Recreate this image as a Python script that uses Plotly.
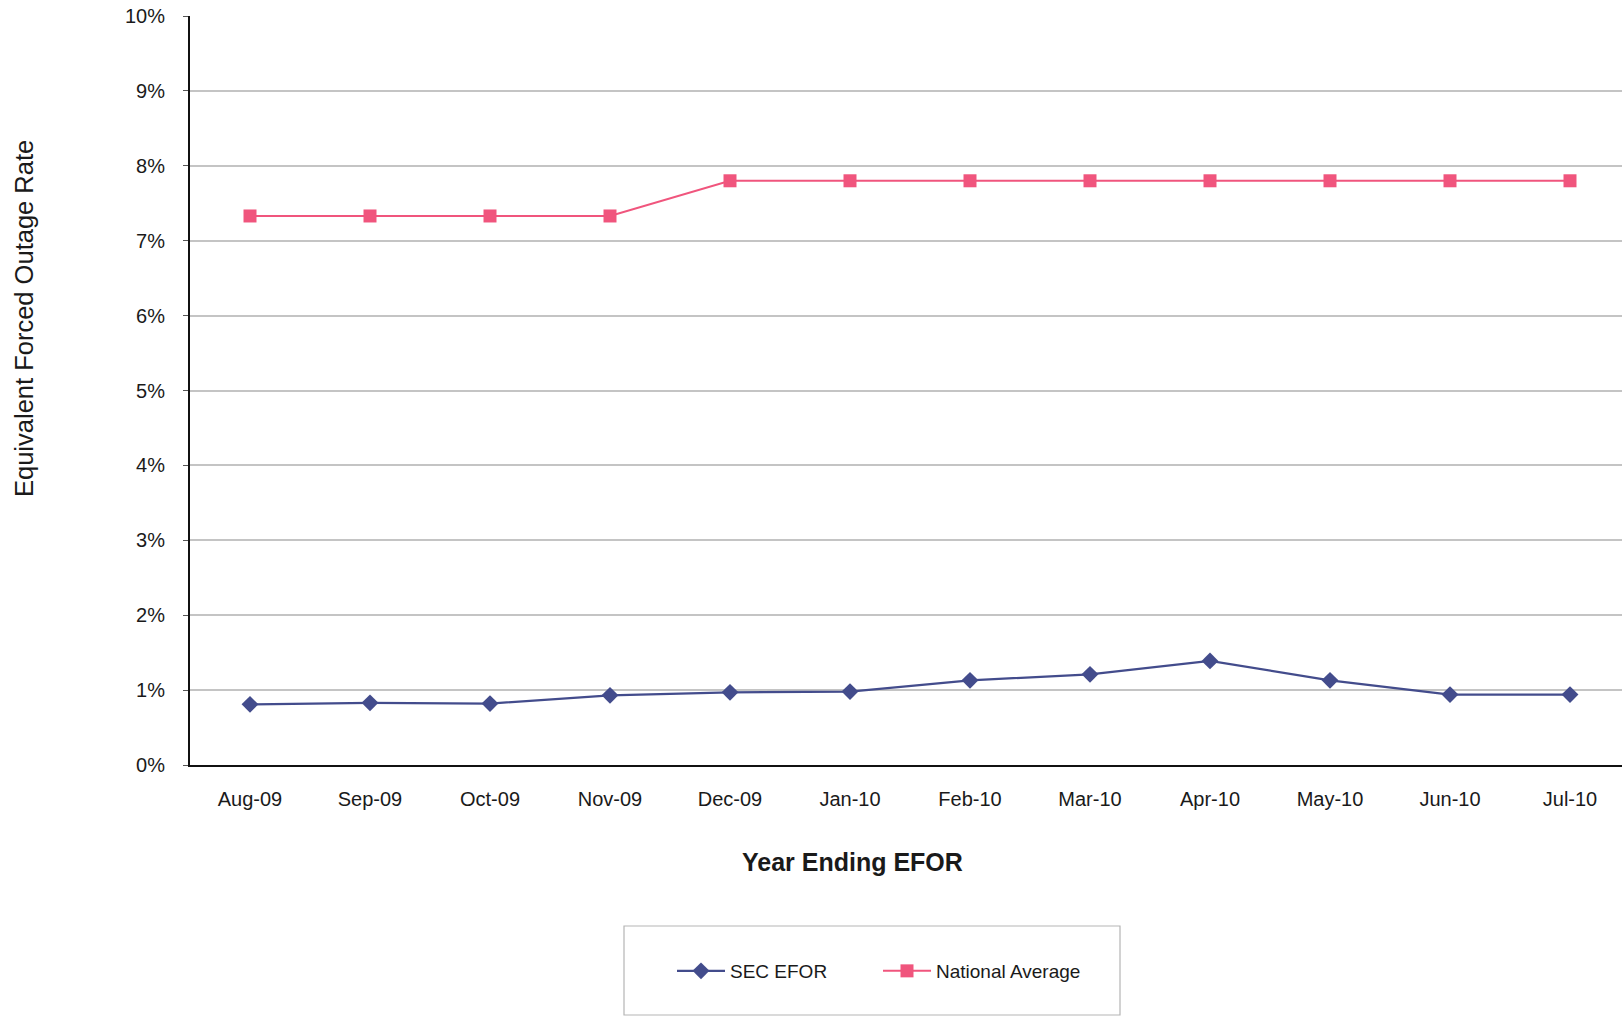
import plotly.graph_objects as go

# Year-ending EFOR by month
months = ["Aug-09", "Sep-09", "Oct-09", "Nov-09", "Dec-09", "Jan-10",
          "Feb-10", "Mar-10", "Apr-10", "May-10", "Jun-10", "Jul-10"]
sec_efor = [0.81, 0.83, 0.82, 0.93, 0.97, 0.98, 1.13, 1.21, 1.39, 1.13, 0.94, 0.94]
national_avg = [7.33, 7.33, 7.33, 7.33, 7.80, 7.80, 7.80, 7.80, 7.80, 7.80, 7.80, 7.80]
y_ticks = [0, 1, 2, 3, 4, 5, 6, 7, 8, 9, 10]
y_tick_labels = [f"{v}%" for v in y_ticks]

W, H = 1622, 1017
L, T, B = 190, 16, 252
plot_w = W - L
plot_h = H - T - B

FONT = "Liberation Sans, Arial, sans-serif"
NAVY = "#434c8c"
PINK = "#f0557d"

fig = go.Figure()
fig.add_trace(go.Scatter(
    x=list(range(len(months))), y=sec_efor, name="SEC EFOR",
    mode="lines+markers",
    line=dict(color=NAVY, width=2.2),
    marker=dict(symbol="diamond", size=13, color=NAVY),
))
fig.add_trace(go.Scatter(
    x=list(range(len(months))), y=national_avg, name="National Average",
    mode="lines+markers",
    line=dict(color=PINK, width=2),
    marker=dict(symbol="square", size=13, color=PINK),
))

def px_x(p):
    return (p - L) / plot_w

def px_y(p):
    return (H - B - p) / plot_h

# legend frame
fig.add_shape(type="rect", xref="paper", yref="paper",
              x0=px_x(624), x1=px_x(1120), y0=px_y(926), y1=px_y(1015),
              line=dict(color="#b5b5b5", width=1.2), fillcolor="rgba(0,0,0,0)")

fig.add_annotation(text="Equivalent Forced Outage Rate", textangle=-90,
                   xref="paper", yref="paper", x=px_x(24), y=px_y(319),
                   xanchor="center", yanchor="middle",
                   showarrow=False, font=dict(family=FONT, size=25.5, color="#1a1a1a"))
fig.add_annotation(text="<b>Year Ending EFOR</b>",
                   xref="paper", yref="paper", x=px_x(852), y=px_y(862),
                   xanchor="center", yanchor="middle",
                   showarrow=False, font=dict(family=FONT, size=25, color="#1a1a1a"))

fig.update_layout(
    width=W, height=H,
    margin=dict(l=L, r=0, t=T, b=B),
    paper_bgcolor="white", plot_bgcolor="white",
    font=dict(family=FONT, size=20, color="#1a1a1a"),
    showlegend=True,
    legend=dict(orientation="h", xref="container", yref="container",
                x=672 / W, y=1 - 971 / H, xanchor="left", yanchor="middle",
                font=dict(size=19), itemwidth=48, entrywidth=143,
                bgcolor="rgba(0,0,0,0)"),
    xaxis=dict(
        tickmode="array", tickvals=list(range(len(months))), ticktext=months,
        range=[-0.5, -0.5 + plot_w / 120.0],
        showgrid=False, zeroline=False,
        showline=True, linecolor="#111111", linewidth=2,
        ticks="", ticklabelstandoff=15,
    ),
    yaxis=dict(
        range=[0, 10], tickvals=y_ticks, ticktext=y_tick_labels,
        showgrid=True, gridcolor="#c4c4c4", gridwidth=1.5,
        zeroline=False,
        showline=True, linecolor="#111111", linewidth=2,
        ticks="outside", ticklen=5, tickcolor="#555555",
        ticklabelstandoff=14,
    ),
)

fig.write_html("out.html")
